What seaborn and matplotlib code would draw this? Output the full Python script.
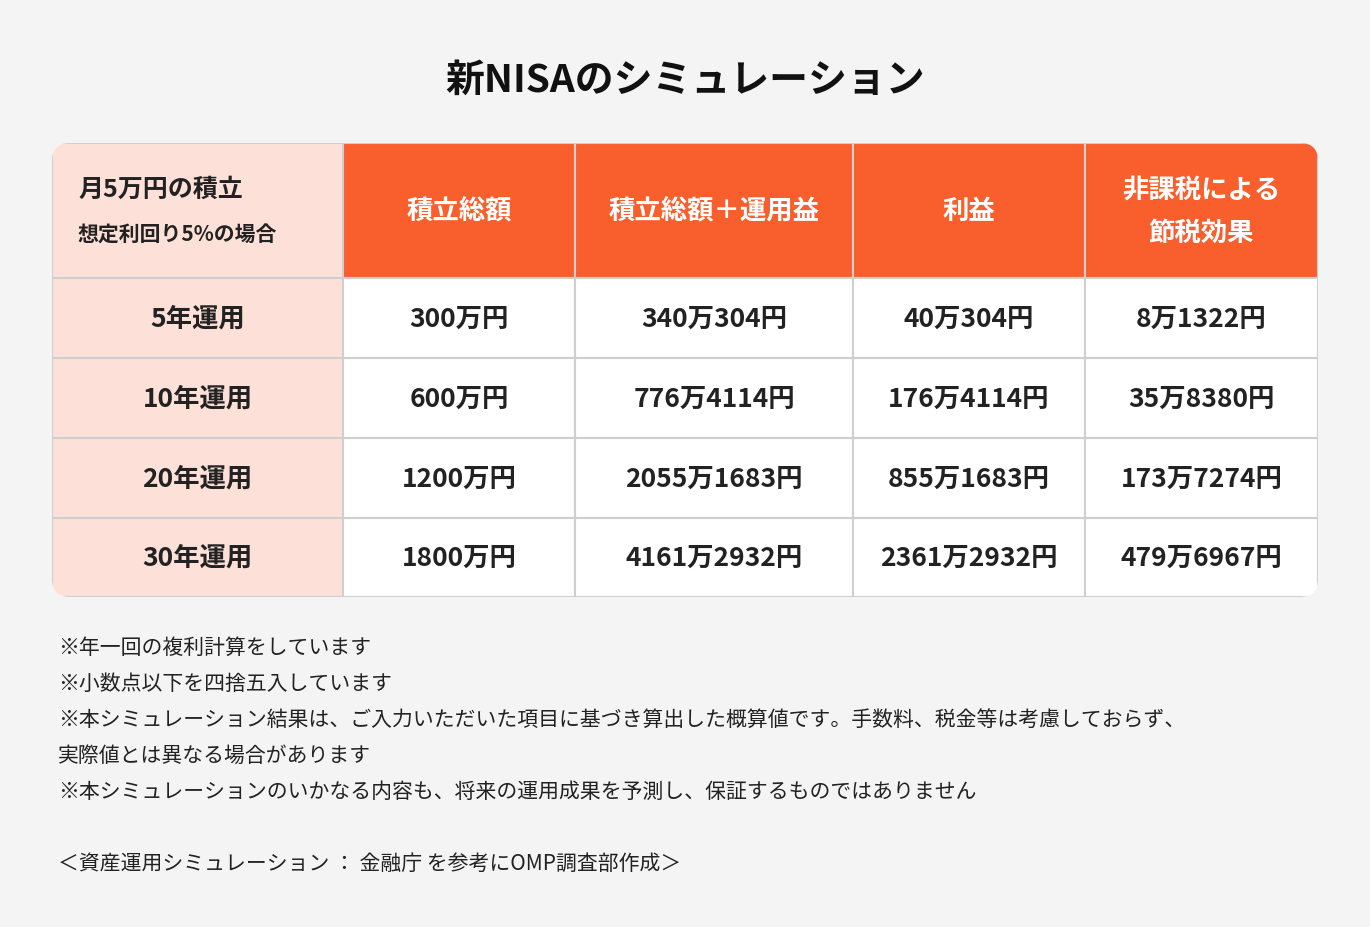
import matplotlib
matplotlib.use("Agg")
import matplotlib.pyplot as plt
from matplotlib.patches import FancyBboxPatch, Rectangle
import seaborn as sns

sns.set_theme(style="white")
plt.rcParams['font.family'] = ['Noto Sans CJK JP', 'DejaVu Sans']

title = "新NISAのシミュレーション"
corner_lines = ["月5万円の積立", "想定利回り5%の場合"]
col_headers = ["積立総額", "積立総額＋運用益", "利益", "非課税による\n節税効果"]
row_labels = ["5年運用", "10年運用", "20年運用", "30年運用"]
principal = ["300万円", "600万円", "1200万円", "1800万円"]
total = ["340万304円", "776万4114円", "2055万1683円", "4161万2932円"]
profit = ["40万304円", "176万4114円", "855万1683円", "2361万2932円"]
tax_saving = ["8万1322円", "35万8380円", "173万7274円", "479万6967円"]
notes = [
    "※年一回の複利計算をしています",
    "※小数点以下を四捨五入しています",
    "※本シミュレーション結果は、ご入力いただいた項目に基づき算出した概算値です。手数料、税金等は考慮しておらず、",
    "実際値とは異なる場合があります",
    "※本シミュレーションのいかなる内容も、将来の運用成果を予測し、保証するものではありません",
    "",
    "＜資産運用シミュレーション ： 金融庁 を参考にOMP調査部作成＞",
]

BG = "#F4F4F4"
ORANGE = "#F85F2C"
PINK = "#FDE1D8"
LINE = "#CFCFCF"
TEXT = "#222222"

col_x = [52, 343, 575, 853, 1085, 1318]
row_y = [144, 279, 359, 439, 519, 598]

fig = plt.figure(figsize=(13.7, 9.28), dpi=100, facecolor=BG)
ax = fig.add_axes([0, 0, 1, 1])
ax.set_xlim(0, 1370)
ax.set_ylim(928, 0)
ax.axis("off")
ax.set_facecolor(BG)

ax.text(685, 80, title, ha="center", va="center", fontsize=28,
        fontweight="bold", color="#111111")

# rounded table outline used for clipping
clip = FancyBboxPatch((col_x[0], row_y[0]), col_x[-1] - col_x[0], row_y[-1] - row_y[0],
                      boxstyle="round,pad=0,rounding_size=18", fc="white", ec="none")
ax.add_patch(clip)

body = [principal, total, profit, tax_saving]
for r in range(5):
    for c in range(5):
        x0, x1 = col_x[c], col_x[c + 1]
        y0, y1 = row_y[r], row_y[r + 1]
        if r == 0 and c > 0:
            fc = ORANGE
        elif c == 0:
            fc = PINK
        else:
            fc = "white"
        rect = Rectangle((x0, y0), x1 - x0, y1 - y0, fc=fc, ec=LINE, lw=1.5)
        ax.add_patch(rect)
        rect.set_clip_path(clip)
        cx, cy = (x0 + x1) / 2, (y0 + y1) / 2
        if r == 0 and c == 0:
            ax.text(78, 190, corner_lines[0], ha="left", va="center",
                    fontsize=18, fontweight="bold", color=TEXT)
            ax.text(78, 235, corner_lines[1], ha="left", va="center",
                    fontsize=15, fontweight="bold", color=TEXT)
        elif r == 0:
            ax.text(cx, cy, col_headers[c - 1], ha="center", va="center",
                    fontsize=19, fontweight="bold", color="white", linespacing=1.75)
        elif c == 0:
            ax.text(cx, cy, row_labels[r - 1], ha="center", va="center",
                    fontsize=19, fontweight="bold", color=TEXT)
        else:
            ax.text(cx, cy, body[c - 1][r - 1], ha="center", va="center",
                    fontsize=19, fontweight="bold", color=TEXT)

for i, line in enumerate(notes):
    ax.text(58, 648 + 36 * i, line, ha="left", va="center",
            fontsize=15, color=TEXT)

fig.savefig("out.png", dpi=100, facecolor=BG)
